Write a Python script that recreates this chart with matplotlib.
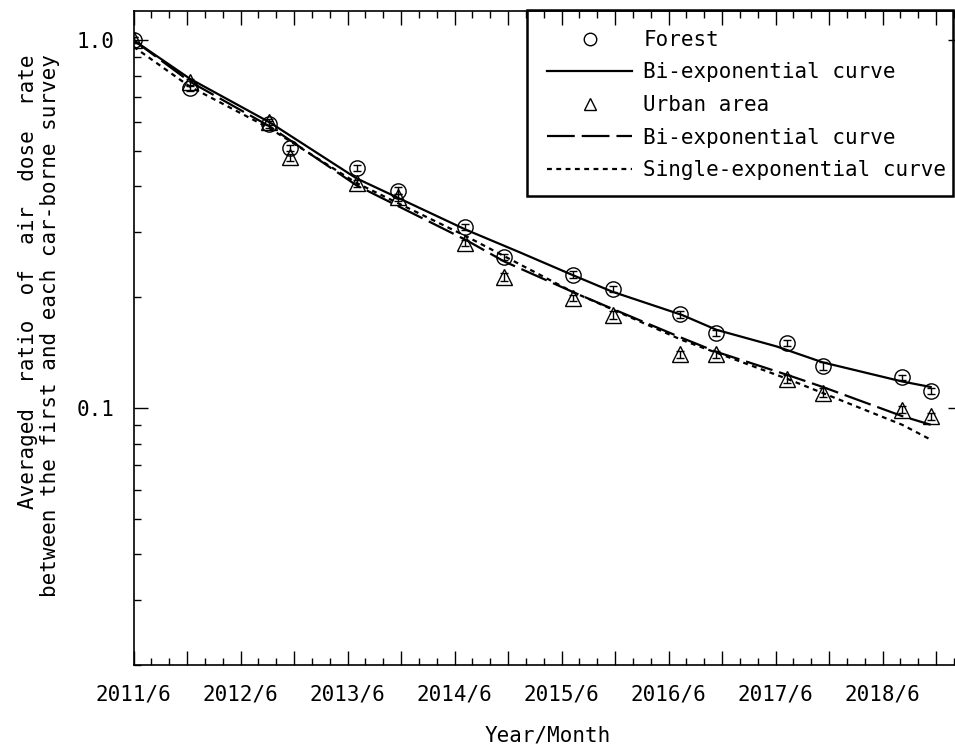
import matplotlib
matplotlib.use("Agg")
import matplotlib.pyplot as plt
from matplotlib.lines import Line2D
from matplotlib.patches import Rectangle
from matplotlib.ticker import FixedLocator, FixedFormatter, NullFormatter

plt.rcParams["font.family"] = ["DejaVu Sans Mono"]
plt.rcParams["lines.scale_dashes"] = False

# x values: months after 2011/6
months = [0, 6.3, 15.2, 17.6, 25.1, 29.7, 37.2, 41.6, 49.3, 53.8, 61.3, 65.3, 73.3, 77.3, 86.2, 89.4]

forest = [1.0, 0.74, 0.59, 0.51, 0.45, 0.39, 0.31, 0.257, 0.23, 0.21, 0.18, 0.16, 0.15, 0.13, 0.121, 0.111]
forest_err = [0.02, 0.015, 0.012, 0.01, 0.009, 0.008, 0.006, 0.005, 0.005, 0.004, 0.004, 0.003, 0.003, 0.003, 0.002, 0.002]
urban = [1.0, 0.767, 0.60, 0.48, 0.408, 0.374, 0.281, 0.227, 0.199, 0.179, 0.14, 0.14, 0.12, 0.11, 0.099, 0.095]
urban_err = [0.02, 0.015, 0.012, 0.01, 0.009, 0.008, 0.006, 0.005, 0.004, 0.004, 0.003, 0.003, 0.003, 0.003, 0.002, 0.002]

# fitted curves
curve_months = [0, 6.3, 15.25, 25.0, 37.3, 43.3, 49.2, 53.7, 61.5, 65.4, 72.1, 77.3, 86.2, 89.4]
forest_bi = [1.0, 0.786, 0.598, 0.421, 0.305, 0.265, 0.230, 0.207, 0.179, 0.163, 0.147, 0.133, 0.118, 0.114]

urban_months = [0, 6.3, 15.25, 25.0, 37.3, 41.6, 49.2, 53.7, 61.5, 65.4, 73.3, 77.3, 86.2, 89.4]
urban_bi = [1.0, 0.772, 0.583, 0.403, 0.286, 0.250, 0.207, 0.186, 0.155, 0.142, 0.123, 0.114, 0.095, 0.090]

single_months = [0, 6.3, 15.25, 25.0, 37.3, 49.2, 61.5, 73.3, 86.2, 89.4]
urban_single = [0.96, 0.748, 0.576, 0.409, 0.293, 0.207, 0.153, 0.120, 0.090, 0.082]

tick_months = [0, 12, 24, 36, 48, 60, 72, 84]
tick_labels = ["2011/6", "2012/6", "2013/6", "2014/6", "2015/6", "2016/6", "2017/6", "2018/6"]

fig = plt.figure(figsize=(9.55, 7.46), dpi=100)
ax = fig.add_axes([133.5 / 955, 81 / 746, 828 / 955, 654 / 746])

ax.plot(curve_months, forest_bi, color="black", lw=1.6)
ax.plot(urban_months, urban_bi, color="black", lw=1.6, linestyle=(0, (20, 5)))
ax.plot(single_months, urban_single, color="black", lw=1.6, linestyle=(0, (3.5, 3.2)))

ax.errorbar(months, forest, yerr=forest_err, fmt="o", ms=11, mfc="none", mec="black", mew=1.0,
            ecolor="black", elinewidth=1.0, capsize=3)
ax.errorbar(months, urban, yerr=urban_err, fmt="^", ms=11, mfc="none", mec="black", mew=1.0,
            ecolor="black", elinewidth=1.0, capsize=3)

ax.set_yscale("log")
ax.set_ylim(0.02, 1.2)
ax.set_xlim(0, 828 / 8.917)

major_x = list(range(0, 93, 6))
ax.xaxis.set_major_locator(FixedLocator(major_x))
ax.xaxis.set_major_formatter(FixedFormatter([tick_labels[tick_months.index(m)] if m in tick_months else "" for m in major_x]))
ax.xaxis.set_minor_locator(FixedLocator(list(range(0, 93, 2))))

ax.yaxis.set_major_locator(FixedLocator([0.1, 1.0]))
ax.yaxis.set_major_formatter(FixedFormatter(["0.1", "1.0"]))
ax.yaxis.set_minor_locator(FixedLocator([0.02, 0.03, 0.04, 0.05, 0.06, 0.07, 0.08, 0.09,
                                         0.2, 0.3, 0.4, 0.5, 0.6, 0.7, 0.8, 0.9]))
ax.yaxis.set_minor_formatter(NullFormatter())

ax.tick_params(which="both", direction="in", top=True, right=True, width=1.0, labelsize=15)
ax.tick_params(which="major", length=10)
ax.tick_params(which="minor", length=5)
ax.tick_params(axis="x", which="major", pad=14)
ax.tick_params(axis="y", which="major", pad=14)
for s in ax.spines.values():
    s.set_linewidth(1.2)

ax.set_xlabel("Year/Month", fontsize=15, labelpad=15)
ax.set_ylabel("Averaged  ratio  of  air  dose  rate\nbetween the first and each car-borne survey",
              fontsize=15, labelpad=12, linespacing=1.1, multialignment="right")
ax.yaxis.label.set_y(0.5 + 12 / 654)

# legend
handles = [
    Line2D([], [], ls="none", marker="o", ms=9, mfc="none", mec="black", mew=1.0),
    Line2D([], [], color="black", lw=1.6),
    Line2D([], [], ls="none", marker="^", ms=9, mfc="none", mec="black", mew=1.0),
    Line2D([], [], color="black", lw=1.6, linestyle=(0, (20, 5))),
    Line2D([], [], color="black", lw=1.6, linestyle=(0, (3.5, 3.2))),
]
labels = ["Forest", "Bi-exponential curve", "Urban area", "Bi-exponential curve", "Single-exponential curve"]
ax.legend(handles, labels, loc="upper left", bbox_to_anchor=(547 / 955, 1 - 30 / 746),
          bbox_transform=fig.transFigure, fontsize=15, frameon=False,
          handlelength=4.08, handletextpad=0.55, labelspacing=0.6, borderpad=0, borderaxespad=0)
fig.patches.append(Rectangle((527 / 955, 1 - 196 / 746), 426 / 955, 186 / 746,
                             transform=fig.transFigure, fill=False, edgecolor="black", lw=1.8, zorder=5))

fig.savefig("out.png", dpi=100)
